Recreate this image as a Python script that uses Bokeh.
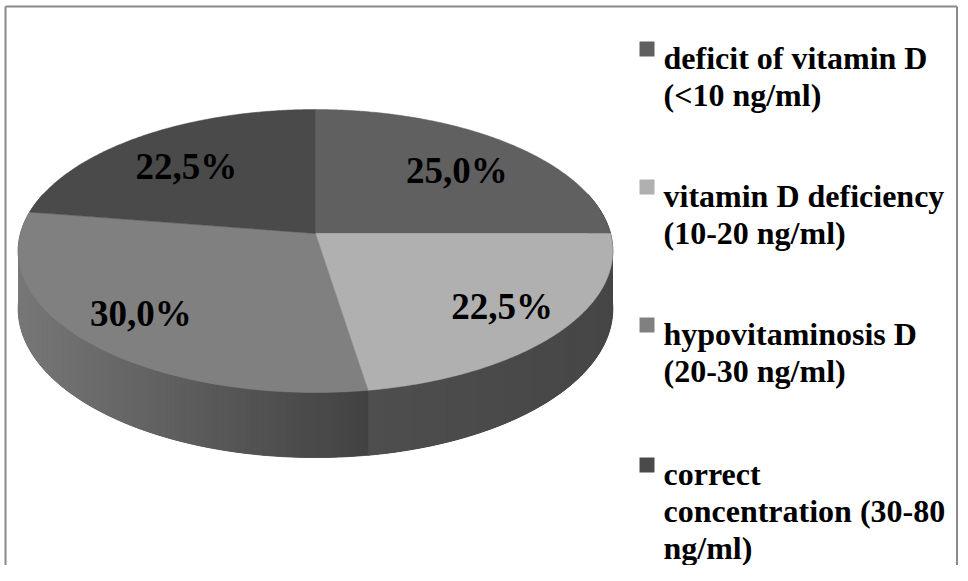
import math
from bokeh.plotting import figure
from bokeh.models import Range1d
from bokeh.core.properties import value
from bokeh.embed import file_html
from bokeh.resources import INLINE

# ---- data ----
categories = [
    "deficit of vitamin D (<10 ng/ml)",
    "vitamin D deficiency (10-20 ng/ml)",
    "hypovitaminosis D (20-30 ng/ml)",
    "correct concentration (30-80 ng/ml)",
]
legend_lines = [
    ["deficit of vitamin D", "(<10 ng/ml)"],
    ["vitamin D  deficiency", "(10-20 ng/ml)"],
    ["hypovitaminosis D", "(20-30 ng/ml)"],
    ["correct", "concentration (30-80", "ng/ml)"],
]
shares = [25.0, 22.5, 30.0, 22.5]
top_colors = ["#606060", "#b0b0b0", "#808080", "#4a4a4a"]

# ---- layout / styling ----
W, H = 958, 565
CX, CY = 315.0, 233.0      # pie centre
R = 295.0                  # horizontal radius
B = -110.5                 # vertical squash
C = 0.1237                 # perspective
D0 = 57.0                  # thickness
VIS = 0.3                  # side drawn where cos(angle) < VIS
FONT = value("Liberation Serif")


def proj(u, v):
    d = 1.0 + C * v
    return CX + R * u / d, (CY + B * v) / d


def depth(v):
    return D0 / (1.0 + C * v)


def hex2rgb(h):
    return tuple(int(h[i:i + 2], 16) for i in (1, 3, 5))


def lerp_col(c1, c2, t):
    t = max(0.0, min(1.0, t))
    a, b = hex2rgb(c1), hex2rgb(c2)
    return "#%02x%02x%02x" % tuple(int(round(a[i] + (b[i] - a[i]) * t)) for i in range(3))


def side_color(i, xc):
    if i in (2, 3):
        return lerp_col("#777777", "#424242", (xc - 20) / (367 - 20))
    return lerp_col("#4e4e4e", "#464646", (xc - 367) / (610 - 367))


total = sum(shares)
bounds = [0.0]
for s in shares:
    bounds.append(bounds[-1] + 360.0 * s / total)


def edge_pts(t):
    u, v = math.sin(math.radians(t)), math.cos(math.radians(t))
    x, y = proj(u, v)
    return x, y, y + depth(v)


p = figure(width=W, height=H, output_backend="svg", toolbar_location=None,
           x_range=Range1d(0, W), y_range=Range1d(H, 0),
           x_axis_location=None, y_axis_location=None, min_border=0,
           outline_line_color=None, background_fill_color="white",
           border_fill_color="white")
p.grid.visible = False

# ---- side of the pie ----
base_xs, base_ys, base_cols = [], [], []
strips = []
for i in range(len(shares)):
    a0, a1 = bounds[i], bounds[i + 1]
    n = max(2, int((a1 - a0) / 1.0))
    angs = [a0 + (a1 - a0) * k / n for k in range(n + 1)]
    angs = [a for a in angs if math.cos(math.radians(a)) < VIS]
    if len(angs) < 2:
        continue
    pts = [edge_pts(a) for a in angs]
    xs = [q[0] for q in pts] + [q[0] for q in reversed(pts)]
    ys = [q[1] for q in pts] + [q[2] for q in reversed(pts)]
    base_xs.append(xs)
    base_ys.append(ys)
    base_cols.append(side_color(i, sum(q[0] for q in pts) / len(pts)))
    for k in range(len(angs) - 1):
        k2 = min(k + 2, len(angs) - 1)      # overlap neighbour strip to hide seams
        p0, p1 = pts[k], pts[k2]
        sx = [p0[0], p1[0], p1[0], p0[0]]
        sy = [p0[1], p1[1], p1[2], p0[2]]
        vm = math.cos(math.radians((angs[k] + angs[k + 1]) / 2))
        strips.append((vm, sx, sy, side_color(i, (pts[k][0] + pts[k + 1][0]) / 2)))

order = sorted(range(len(base_xs)), key=lambda j: -min(base_ys[j]))
p.patches([base_xs[j] for j in order], [base_ys[j] for j in order],
          fill_color=[base_cols[j] for j in order], line_color=[base_cols[j] for j in order],
          line_width=1)
strips.sort(key=lambda q: -q[0])
p.patches([q[1] for q in strips], [q[2] for q in strips],
          fill_color=[q[3] for q in strips], line_color=None)

# ---- top face ----
txs, tys = [], []
for i in range(len(shares)):
    a0, a1 = bounds[i], bounds[i + 1]
    n = max(2, int((a1 - a0) / 0.5))
    xs, ys = [CX], [CY]
    for k in range(n + 1):
        t = math.radians(a0 + (a1 - a0) * k / n)
        x, y = proj(math.sin(t), math.cos(t))
        xs.append(x)
        ys.append(y)
    txs.append(xs)
    tys.append(ys)
p.patches(txs, tys, fill_color=top_colors, line_color=top_colors, line_width=0.5)

# ---- data labels ----
lx, ly, lt = [], [], []
for i, s in enumerate(shares):
    tm = math.radians((bounds[i] + bounds[i + 1]) / 2)
    u, v = math.sin(tm), math.cos(tm)
    rr, dy = (0.72, 4) if v > 0 else (0.78, -2)
    x, y = proj(rr * u, rr * v)
    lx.append(x)
    ly.append(y + dy)
    lt.append(("%.1f%%" % s).replace(".", ","))
p.text(lx, ly, text=lt, text_font=FONT, text_font_style="bold",
       text_font_size="37px", text_align="center", text_baseline="middle",
       text_color="black")

# ---- legend ----
first_base = [57, 195, 333, 473]
line_gap = 37
sq_x, sq_size, txt_x = 639, 15, 663
gx, gy, gt = [], [], []
for i, lines in enumerate(legend_lines):
    for j, ln in enumerate(lines):
        gx.append(txt_x)
        gy.append(first_base[i] + j * line_gap)
        gt.append(ln)
p.quad(left=[sq_x] * 4, right=[sq_x + sq_size] * 4,
       top=[b - 16 for b in first_base], bottom=[b - 16 + sq_size for b in first_base],
       fill_color=top_colors, line_color=None)
p.text(gx, gy, text=gt, text_font=FONT, text_font_style="bold",
       text_font_size="32px", text_align="left", text_baseline="alphabetic",
       text_color="black")

# ---- chart frame ----
p.segment(x0=[5, 5, W - 1.5], y0=[6, 6, 6], x1=[5, W - 1.5, W - 1.5], y1=[H, 6, H],
          line_color="#8a8a8a", line_width=2)

open("out.html", "w").write(file_html(p, INLINE))
